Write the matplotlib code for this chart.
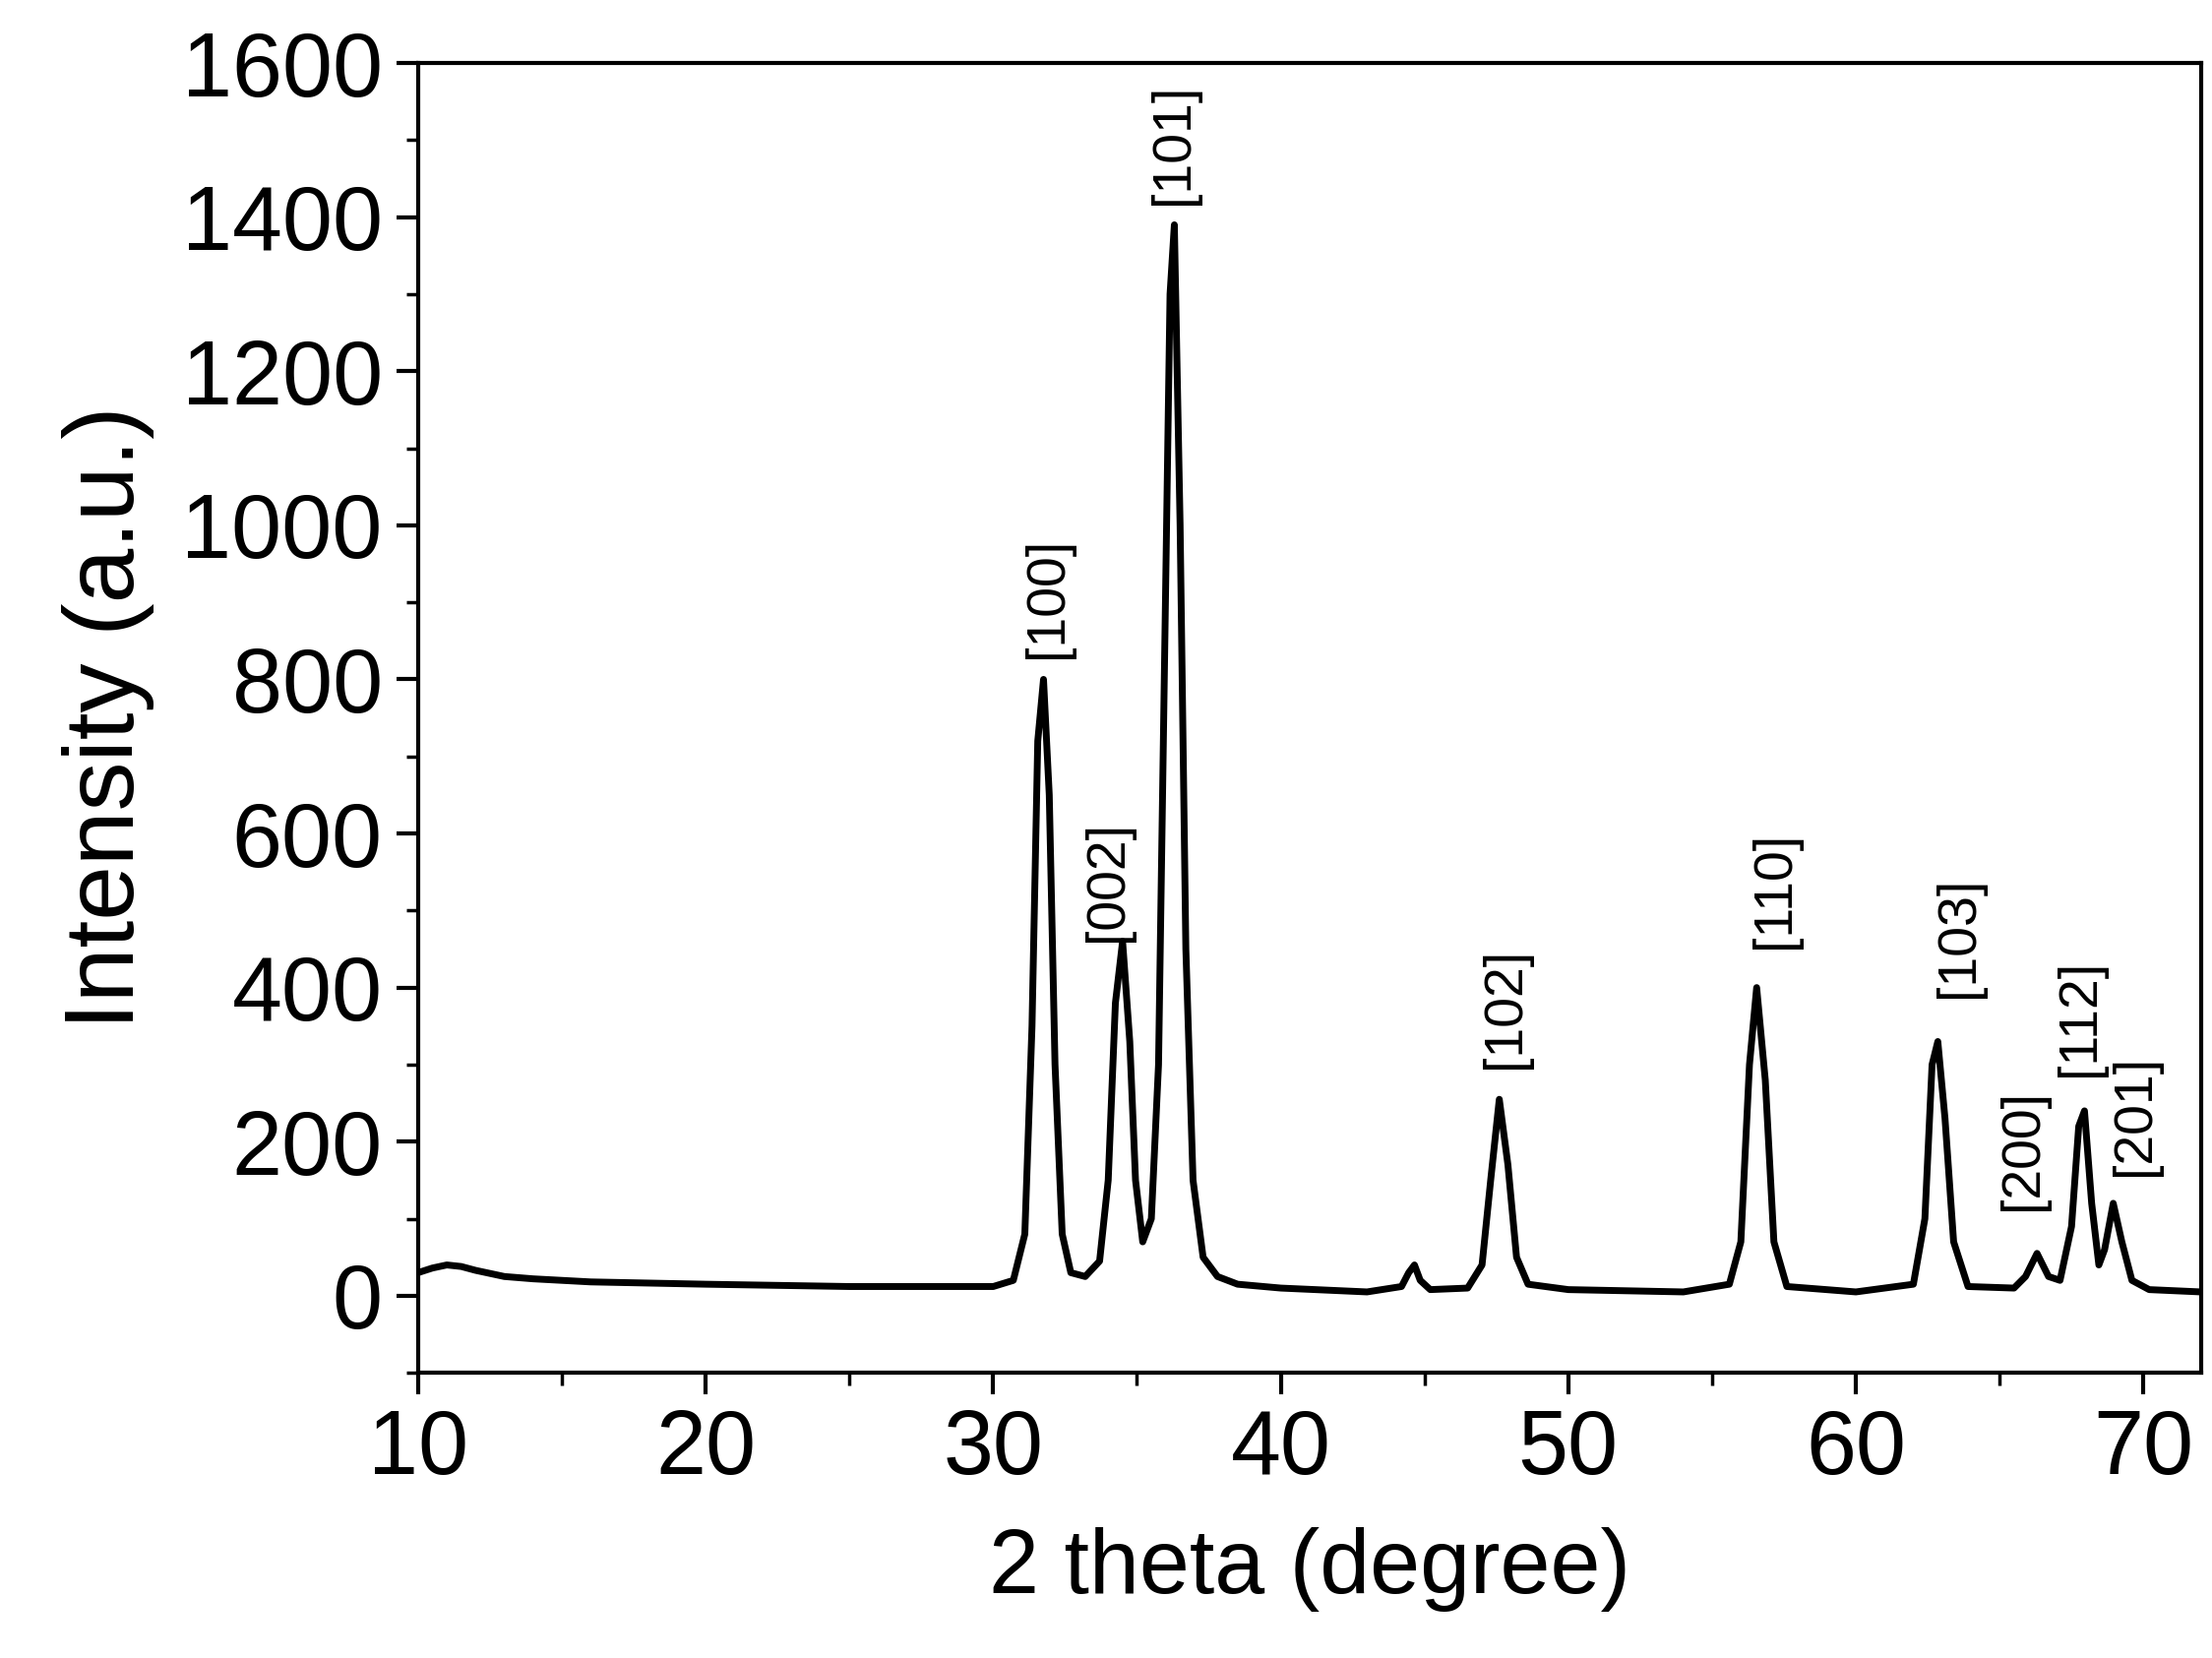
import matplotlib
matplotlib.use("Agg")
import matplotlib.pyplot as plt
from matplotlib.ticker import MultipleLocator

two_theta = [10, 10.5, 11, 11.5, 12, 13, 14, 16, 20, 25, 30, 30.7, 31.1, 31.35, 31.55, 31.75, 31.95, 32.15, 32.4, 32.7,
             33.2, 33.7, 34.0, 34.25, 34.5, 34.75, 34.95, 35.2, 35.5, 35.75, 35.95, 36.15, 36.3, 36.5, 36.7,
             36.95, 37.3, 37.8, 38.5, 40, 43, 44.2, 44.45, 44.65, 44.85, 45.2, 46.5, 47.0, 47.3,
             47.6, 47.9, 48.2, 48.6, 50, 54, 55.6, 56.0, 56.3, 56.55, 56.85, 57.15, 57.6, 60, 62.0, 62.4, 62.65, 62.85, 63.1,
             63.4, 63.9, 65.5, 65.9, 66.3, 66.7, 67.1, 67.5, 67.75, 67.95, 68.2, 68.45, 68.65, 68.95, 69.25, 69.6, 70.2, 72]
intensity = [30, 36, 40, 38, 33, 25, 22, 18, 15, 12, 12, 20, 80, 350, 720, 800, 650, 300, 80, 30,
             25, 45, 150, 380, 460, 330, 150, 70, 100, 300, 800, 1300, 1390, 1000, 450,
             150, 50, 25, 15, 10, 5, 12, 30, 40, 20, 8, 10, 40, 150,
             255, 170, 50, 15, 8, 5, 15, 70, 300, 400, 280, 70, 12, 5, 15, 100, 300, 330, 230,
             70, 12, 10, 25, 55, 25, 20, 90, 220, 240, 120, 40, 60, 120, 70, 20, 8, 5]

peak_labels = ["[100]", "[002]", "[101]", "[102]", "[110]", "[103]", "[200]", "[112]", "[201]"]
label_x = [31.9, 34.0, 36.3, 47.8, 57.2, 63.6, 65.8, 67.8, 69.7]
label_y = [828, 460, 1416, 295, 451, 387, 111, 285, 156]

plt.rcParams['font.family'] = ['Liberation Sans', 'DejaVu Sans']
fig = plt.figure(figsize=(22.48, 16.85), dpi=100)
ax = fig.add_axes([0.189, 0.172, 0.806, 0.79])
ax.plot(two_theta, intensity, color='black', lw=5, solid_joinstyle='round')
for t, x, y in zip(peak_labels, label_x, label_y):
    ax.text(x, y, t, rotation=90, ha='center', va='bottom', fontsize=40)
ax.set_xlim(10, 72)
ax.set_ylim(-100, 1600)
ax.xaxis.set_major_locator(MultipleLocator(10))
ax.xaxis.set_minor_locator(MultipleLocator(5))
ax.yaxis.set_major_locator(MultipleLocator(200))
ax.yaxis.set_minor_locator(MultipleLocator(100))
ax.tick_params(which='major', length=16, width=3, labelsize=66, direction='out', pad=10)
ax.tick_params(which='minor', length=9, width=2.5)
for s in ax.spines.values():
    s.set_linewidth(3)
ax.set_xlabel('2 theta (degree)', fontsize=66, labelpad=25)
ax.set_ylabel('Intensity (a.u.)', fontsize=72, labelpad=20)
fig.savefig('out.png', dpi=100)
